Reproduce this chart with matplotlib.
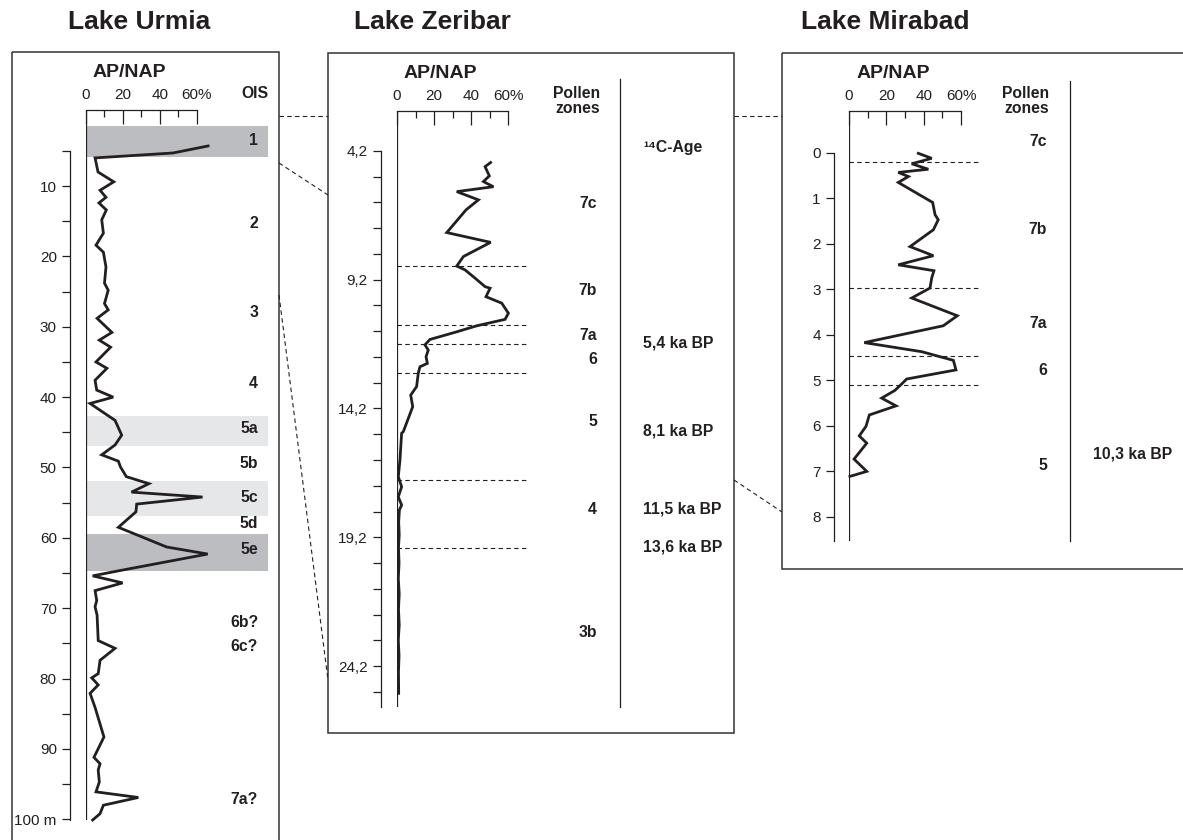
import matplotlib
matplotlib.use('Agg')
import matplotlib.pyplot as plt
from matplotlib.patches import Rectangle

plt.rcParams['font.family'] = ['Liberation Sans', 'DejaVu Sans']

INK = '#231f20'
W, H = 1183, 840

# ---------------- Lake Urmia : depth (m) / AP-NAP (%)
urmia_depth = [4.3, 5.3, 6.0, 8.0, 9.4, 10.6, 11.6, 12.4, 13.4, 14.8, 16.7, 18.4, 19.4, 21.5,
               23.8, 24.8, 26.7, 27.6, 28.8, 30.8, 31.9, 32.9, 35.0, 35.9, 37.6, 39.0, 40.0,
               40.9, 43.3, 45.4, 46.8, 48.2, 49.1, 49.9, 51.3, 52.3, 53.5, 54.2, 55.2, 56.3,
               58.5, 61.3, 62.3, 64.6, 65.4, 66.4, 67.5, 68.9, 69.8, 71.0, 74.6, 75.7, 77.4,
               79.3, 79.9, 80.9, 82.1, 84.1, 88.3, 91.2, 92.1, 93.0, 94.7, 96.1, 96.9, 98.0,
               99.2, 100.1]
urmia_ap = [66, 47, 4.9, 6.5, 15, 7.6, 10.8, 7, 11, 8.5, 9.4, 5.4, 9.4, 10.8,
            10, 12, 10, 12, 6, 14, 7.2, 13.3, 5.4, 11.3, 4.9, 5.8, 14.7,
            2.2, 15.7, 19.3, 15.7, 8.5, 17.5, 18.6, 21.8, 34, 24.6, 63, 27.4, 27,
            17.5, 43.6, 65.8, 19.3, 3.6, 19.8, 4.9, 5.8, 4.9, 6.0, 6.6, 15.7, 7.6,
            6.6, 3.1, 6.6, 2.2, 4.9, 9.7, 4.3, 7.6, 6.6, 7.2, 5.4, 28.3, 9.4,
            7.6, 3.6]
urmia_ois = ['1', '2', '3', '4', '5a', '5b', '5c', '5d', '5e', '6b?', '6c?', '7a?']
urmia_ois_depth = [3.5, 15.3, 27.9, 38.0, 44.4, 49.5, 54.2, 57.9, 61.7, 72.0, 75.5, 97.2]
urmia_dark = [(1.5, 5.9), (59.5, 64.7)]
urmia_light = [(42.7, 47.0), (51.9, 56.9)]

# ---------------- Lake Zeribar
zeribar_depth = [4.65, 4.81, 5.17, 5.39, 5.59, 5.78, 6.10, 6.49, 7.37, 7.75, 8.30, 8.67, 8.82,
                 9.14, 9.47, 9.53, 9.86, 10.11, 10.50, 10.74, 10.99, 11.25, 11.52, 11.73, 11.93,
                 12.19, 12.45, 12.58, 12.83, 13.35, 13.68, 14.13, 15.10, 15.16, 16.2, 16.85,
                 17.24, 17.63, 17.95, 18.14, 18.6, 19.1, 19.6, 20.2, 20.8, 21.4, 22.0, 22.6,
                 23.2, 23.8, 24.4, 25.26]
zeribar_ap = [50.6, 47.6, 49.9, 46.7, 52.1, 32.3, 44.0, 37.3, 26.9, 50.6, 35.9, 32.3, 36.8,
              42.2, 47.6, 50.3, 48.1, 56.6, 60.2, 58.4, 43.1, 31.0, 17.8, 15.1, 16.9,
              15.7, 16.4, 12.4, 11.5, 10.6, 7.4, 8.5, 3.4, 2.5, 1.6, 0.7,
              2.5, 0.7, 2.5, 1.3, 0.9, 1.2, 0.8, 1.1, 0.7, 1.2, 0.8, 1.2,
              0.7, 1.1, 0.8, 0.9]
zeribar_zones = ['7c', '7b', '7a', '6', '5', '4', '3b']
zeribar_zone_depth = [6.26, 9.62, 11.35, 12.28, 14.72, 18.14, 22.88]
zeribar_bounds = [8.67, 10.96, 11.70, 12.82, 16.98, 19.62]
zeribar_ages = ['5,4 ka BP', '8,1 ka BP', '11,5 ka BP', '13,6 ka BP']
zeribar_age_depth = [11.66, 15.07, 18.10, 19.58]
zeribar_ticks = [4.2, 9.2, 14.2, 19.2, 24.2]
zeribar_ticklabels = ['4,2', '9,2', '14,2', '19,2', '24,2']

# ---------------- Lake Mirabad
mirabad_depth = [0.01, 0.12, 0.24, 0.36, 0.43, 0.52, 0.65, 1.09, 1.36, 1.47, 1.69, 2.06,
                 2.26, 2.46, 2.59, 2.75, 2.97, 3.19, 3.58, 3.80, 4.17, 4.37, 4.56, 4.77,
                 4.97, 5.08, 5.22, 5.39, 5.56, 5.76, 6.01, 6.22, 6.38, 6.73, 7.00, 7.11]
mirabad_ap = [37.1, 44.3, 33.6, 42.5, 26.4, 31.8, 26.4, 44.8, 46.1, 47.8, 45.2, 32.7,
              45.2, 26.4, 45.5, 44.3, 43.4, 33.6, 58.0, 50.5, 8.2, 39.0, 55.9, 57.3,
              30.9, 28.2, 24.6, 17.5, 25.2, 10.9, 9.1, 5.5, 9.5, 2.7, 9.5, 0.5]
mirabad_zones = ['7c', '7b', '7a', '6', '5']
mirabad_zone_depth = [-0.24, 1.69, 3.74, 4.79, 6.88]
mirabad_bounds = [0.21, 2.97, 4.46, 5.10]
mirabad_ages = ['10,3 ka BP']
mirabad_age_depth = [6.62]
mirabad_ticks = [0, 1, 2, 3, 4, 5, 6, 7, 8]

fig = plt.figure(figsize=(W / 100, H / 100), dpi=100)

# overlay in pixel coordinates for frames and connecting lines
ov = fig.add_axes([0, 0, 1, 1], zorder=0)
ov.set_xlim(0, W)
ov.set_ylim(H, 0)
ov.axis('off')
for x, y, w, h in [(12, 52, 267, 800), (328, 53, 406, 680), (782, 53, 420, 516)]:
    ov.add_patch(Rectangle((x, y), w, h, fill=False, ec='#333333', lw=1.1))
dash = (0, (4, 3))
for xs, ys in [([279, 328], [116, 116]), ([279, 328], [163, 195]), ([279, 328], [295, 680]),
               ([734, 782], [116, 116]), ([734, 782], [480, 512])]:
    ov.plot(xs, ys, color=INK, lw=0.8, ls=dash)
for x, t in [(139, 'Lake Urmia'), (432, 'Lake Zeribar'), (885, 'Lake Mirabad')]:
    ov.text(x, 22, t, ha='center', va='center', fontsize=19, fontweight='bold', color=INK)


def add_ax(x0, x1, y0, y1):
    ax = fig.add_axes([x0 / W, 1 - y1 / H, (x1 - x0) / W, (y1 - y0) / H], zorder=1)
    ax.patch.set_alpha(0)
    return ax


def core(ax, depth, ap, xmax, ylim, spine_top, offset, major, labels, minor):
    ax.set_xlim(0, xmax)
    ax.set_ylim(ylim)
    for s in ('right', 'bottom'):
        ax.spines[s].set_visible(False)
    for s in ('top', 'left'):
        ax.spines[s].set_linewidth(0.9)
        ax.spines[s].set_color(INK)
    ax.spines['top'].set_bounds(0, 60)
    ax.spines['left'].set_position(('outward', offset))
    ax.spines['left'].set_bounds(spine_top, ylim[0])
    ax.axvline(0, color=INK, lw=0.9)
    ax.xaxis.tick_top()
    ax.set_xticks([0, 20, 40, 60], ['0', '20', '40', '60%'])
    ax.set_xticks([10, 30, 50], minor=True)
    ax.tick_params(axis='x', which='major', direction='in', length=10, width=0.9,
                   pad=6, labelsize=11, colors=INK)
    ax.tick_params(axis='x', which='minor', direction='in', length=5, width=0.9, colors=INK)
    ax.set_yticks(major, labels)
    ax.set_yticks(minor, minor=True)
    ax.tick_params(axis='y', which='both', direction='out', length=5.5, width=0.9,
                   pad=4, labelsize=11, colors=INK)
    ax.plot(ap, depth, color=INK, lw=2.0, clip_on=False, zorder=3,
            solid_joinstyle='miter')
    ax.annotate('AP/NAP', xy=(23.5, 1), xycoords=('data', 'axes fraction'),
                xytext=(0, 27), textcoords='offset points', ha='center', va='center',
                fontsize=14, fontweight='bold', color=INK)


bold = dict(fontsize=11.3, fontweight='bold', color=INK, va='center')

# Urmia
ax = add_ax(86, 268, 110, 820)
core(ax, urmia_depth, urmia_ap, 98.4, (100.1, -0.81), 5, 11.5,
     list(range(10, 101, 10)), [str(v) for v in range(10, 100, 10)] + ['100 m'],
     list(range(5, 100, 10)))
for a, b in urmia_dark:
    ax.axhspan(a, b, color='#bcbdc0', lw=0, zorder=0)
for a, b in urmia_light:
    ax.axhspan(a, b, color='#e6e7e8', lw=0, zorder=0)
for t, d in zip(urmia_ois, urmia_ois_depth):
    ax.text(93, d, t, ha='right', **bold)
ax.annotate('OIS', xy=(98.4, 1), xycoords=('data', 'axes fraction'), xytext=(0, 12),
            textcoords='offset points', ha='right', **bold)

# Zeribar
ax = add_ax(397, 733, 111, 707)
minor = [round(4.2 + i, 1) for i in range(22) if i % 5]
core(ax, zeribar_depth, zeribar_ap, 181.6, (25.79, 2.65), 4.2, 11.5,
     zeribar_ticks, zeribar_ticklabels, minor)
ax.hlines(zeribar_bounds, 0, 70.3, colors=INK, lw=0.8, linestyles=dash)
for t, d in zip(zeribar_zones, zeribar_zone_depth):
    ax.text(108.1, d, t, ha='right', **bold)
ax.plot([120.5, 120.5], [1.40, 25.79], color=INK, lw=0.9, clip_on=False)
ax.text(133, 4.08, '¹⁴C-Age', ha='left', **bold)
for t, d in zip(zeribar_ages, zeribar_age_depth):
    ax.text(133, d, t, ha='left', **bold)
ax.annotate('Pollen\nzones', xy=(109.7, 1), xycoords=('data', 'axes fraction'),
            xytext=(0, 7), textcoords='offset points', ha='right', ma='right',
            linespacing=1.0, **bold)

# Mirabad
ax = add_ax(849, 1183, 111, 541)
core(ax, mirabad_depth, mirabad_ap, 178.9, (8.53, -0.92), 0, 10.8,
     mirabad_ticks, [str(v) for v in mirabad_ticks], [])
ax.hlines(mirabad_bounds, 0, 70.7, colors=INK, lw=0.8, linestyles=dash)
for t, d in zip(mirabad_zones, mirabad_zone_depth):
    ax.text(106.1, d, t, ha='right', **bold)
ax.plot([118.4, 118.4], [-1.58, 8.53], color=INK, lw=0.9, clip_on=False)
for t, d in zip(mirabad_ages, mirabad_age_depth):
    ax.text(130.7, d, t, ha='left', **bold)
ax.annotate('Pollen\nzones', xy=(107.1, 1), xycoords=('data', 'axes fraction'),
            xytext=(0, 7), textcoords='offset points', ha='right', ma='right',
            linespacing=1.0, **bold)

fig.savefig('out.png', dpi=100)
